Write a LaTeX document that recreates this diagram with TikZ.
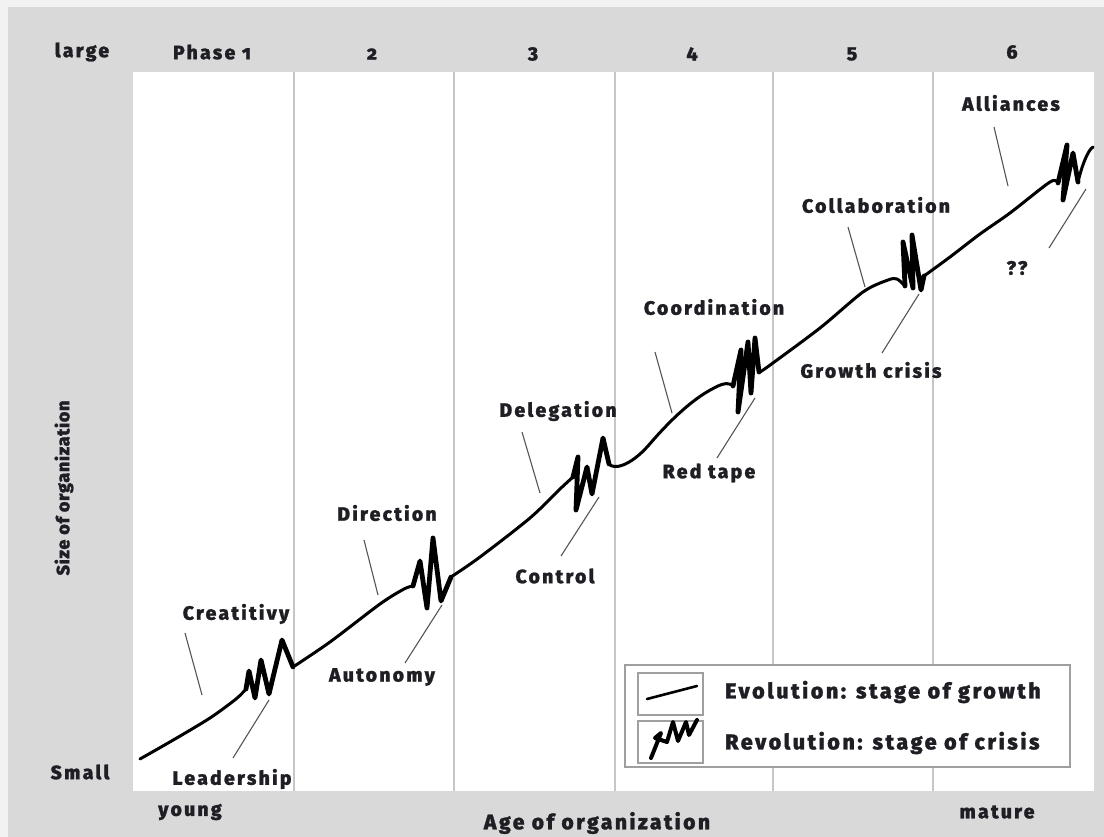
\documentclass[tikz,border=0pt]{standalone}
\usepackage{fontspec}
\setmainfont{Fira Sans}[Numbers=OldStyle, LetterSpace=12, BoldFont={Fira Sans ExtraBold}, BoldFeatures={FakeBold=1.2}]
\definecolor{outer}{HTML}{F2F2F2}
\definecolor{panel}{HTML}{D9D9D9}
\definecolor{gridc}{HTML}{C6C6C6}
\definecolor{ink}{HTML}{1E1E24}
\definecolor{pointer}{HTML}{555555}
\tikzset{
  lbl/.style={font=\bfseries\fontsize{19.3}{23}\selectfont, text=ink, inner sep=0pt},
  leglbl/.style={font=\bfseries\fontsize{21.5}{25}\selectfont, text=ink, inner sep=0pt, anchor=west},
  gridline/.style={draw=gridc, line width=2pt},
  ptr/.style={draw=pointer, line width=1.1pt},
  evo/.style={draw=black, line width=3pt, line cap=round, line join=round},
  revo/.style={draw=black, line width=4.8pt, line cap=round, line join=round},
  legbox/.style={draw=gray!75, line width=1.2pt}
}
\begin{document}
\begin{tikzpicture}[x=1pt,y=-1pt]
\useasboundingbox (0,0) rectangle (1104,837);
% backgrounds
\fill[outer] (0,0) rectangle (1104,837);
\fill[panel] (8,7) rectangle (1104,837);
\fill[white] (133,72) rectangle (1094,791);
\foreach \x in {294,454,615,773,933} \draw[gridline] (\x,72) -- (\x,791);

% axis texts
\node[lbl] (large) at (82,52) {large};
\node[lbl] (ph1) at (212,52) {Phase 1};
\node[lbl] (ph2) at (372,54) {2};
\node[lbl] (ph3) at (533,54) {3};
\node[lbl] (ph4) at (692,54) {4};
\node[lbl] (ph5) at (852,54) {5};
\node[lbl] (ph6) at (1012,52) {6};
\node[lbl] (small) at (80,772) {Small};
\node[lbl] (young) at (190,812) {young};
\node[lbl] (mature) at (997,812) {mature};
\node[lbl, font=\bfseries\fontsize{21}{25}\selectfont] (age) at (597,823) {Age of organization};
\node[lbl, rotate=90, font=\bfseries\fontsize{18}{21}\selectfont\addfontfeature{LetterSpace=4}] (size) at (64,488) {Size of organization};

% evolution segments
\draw[evo] plot[smooth, tension=0.5] coordinates {(140,759) (175,739) (210,718) (236,699) (246,689)};
\draw[evo] plot[smooth, tension=0.5] coordinates {(293,667) (330,642) (380,604) (404,589) (413,586)};
\draw[evo] plot[smooth, tension=0.5] coordinates {(451,577) (480,557) (530,518) (560,489) (573,477)};
\draw[evo] (609,464) .. controls (614,470) and (630,466) .. (648,446)
                     .. controls (665,426) and (690,400) .. (714,388)
                     .. controls (725,382) and (730,383) .. (733,386);
\draw[evo] plot[smooth, tension=0.5] coordinates {(759,372) (766,368) (820,328) (863,292) (888,280) (897,279) (905,286)};
\draw[evo] plot[smooth, tension=0.5] coordinates {(924,276) (950,257) (980,234) (1010,213) (1050,182) (1058,183)};

% revolution zigzags
\draw[revo] (246,689) -- (249,671) -- (255,698) -- (261,660) -- (269,694) -- (282,640) -- (293,667);
\draw[revo] (413,586) -- (420,561) -- (427,608) -- (433,538) -- (441,601) -- (451,577);
\draw[revo] (573,477) -- (578,457) -- (576,510) -- (587,467) -- (592,494) -- (603,438) -- (609,464);
\draw[revo] (733,386) -- (741,350) -- (738,412) -- (748,342) -- (751,393) -- (755,338) -- (759,372);
\draw[revo] (905,286) -- (903,242) -- (913,288) -- (912,235) -- (921,290) -- (924,276);
\draw[revo] (1058,183) -- (1067,145) -- (1063,200) -- (1073,153) -- (1078,182);
\draw[evo] (1078,182) .. controls (1082,165) and (1088,150) .. (1093,147);

% phase labels and their pointers
\node[lbl] (creat) at (236,614) {Creatitivy};
\node[lbl] (lead) at (232,779) {Leadership};
\node[lbl] (dir) at (387,513) {Direction};
\node[lbl] (auto) at (382,677) {Autonomy};
\node[lbl] (dele) at (558,411) {Delegation};
\node[lbl] (ctrl) at (555,576) {Control};
\node[lbl] (coord) at (714,307) {Coordination};
\node[lbl] (red) at (709,473) {Red tape};
\node[lbl] (coll) at (876,205) {Collaboration};
\node[lbl] (grow) at (871,370) {Growth crisis};
\node[lbl] (alli) at (1011,103) {Alliances};
\node[lbl] (qq) at (1017,268) {??};

\draw[ptr] (185,633) -- (202,695);
\draw[ptr] (269,700) -- (233,758);
\draw[ptr] (364,540) -- (378,595);
\draw[ptr] (442,605) -- (405,663);
\draw[ptr] (522,432) -- (540,493);
\draw[ptr] (599,497) -- (561,556);
\draw[ptr] (655,352) -- (672,413);
\draw[ptr] (755,398) -- (717,458);
\draw[ptr] (848,227) -- (865,287);
\draw[ptr] (919,294) -- (882,353);
\draw[ptr] (994,127) -- (1008,186);
\draw[ptr] (1086,189) -- (1049,248);

% legend
\draw[legbox, fill=white] (625,665) rectangle (1070,767);
\draw[legbox] (638,673) rectangle (703,715);
\draw[legbox] (638,721) rectangle (703,763);
\draw[line width=2.6pt, line cap=round] (647,699) -- (697,686);
\draw[revo, line width=4pt] (651,758) -- (661,733) -- (655,738) -- (667,742) -- (673,722) -- (678,741) -- (686,722) -- (689,735) -- (697,720);
\node[leglbl] (evol) at (725,692) {Evolution: stage of growth};
\node[leglbl] (revol) at (725,743) {Revolution: stage of crisis};
\end{tikzpicture}
\end{document}
